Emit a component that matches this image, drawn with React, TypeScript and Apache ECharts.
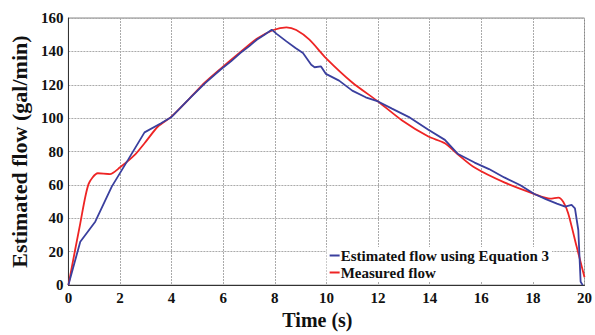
import React, { useEffect, useRef } from "react";
import * as echarts from "echarts";

const estX = [0, 0.46, 1.04, 1.68, 2.31, 2.95, 3.59, 3.98, 4.68, 5.3, 5.89, 6.3, 6.66, 7.0, 7.3, 7.6, 7.88, 8.07, 8.45, 8.8, 9.09, 9.41, 9.54, 9.79, 9.98, 10.49, 11.0, 11.52, 12.0, 12.54, 13.18, 13.95, 14.59, 15.1, 15.74, 16.3, 16.89, 17.5, 18.04, 18.5, 18.93, 19.25, 19.5, 19.63, 19.76, 19.85, 19.93];
const estY = [0, 26, 38, 59, 75, 91.5, 97, 100.5, 111.5, 121, 129, 134, 139, 143, 147, 150, 153, 150.5, 146, 142, 139, 132, 130.5, 131, 126.5, 122.5, 116.5, 112.5, 110, 105.7, 100.8, 93, 87, 78.5, 73.4, 69.5, 64.5, 60, 54.7, 51.5, 48.8, 47, 48, 46, 33, 2, 0];

const measX = [0, 0.46, 0.78, 1.14, 1.61, 1.99, 2.57, 2.95, 3.47, 3.98, 4.68, 5.3, 5.89, 6.66, 7.3, 7.94, 8.45, 8.83, 9.34, 9.98, 11.0, 12.0, 12.92, 13.95, 14.59, 15.1, 15.74, 16.89, 18.04, 18.67, 18.99, 19.18, 19.37, 19.69, 20.0];
const measY = [0, 37, 60.5, 67, 66.5, 70.4, 78, 85, 95, 100.8, 111.6, 121.5, 129.5, 139.5, 147.5, 152.8, 154.4, 152.8, 147, 136, 121.4, 110, 98.8, 89, 85, 78.2, 70.4, 61.5, 54.7, 51.8, 52.4, 49.8, 42.9, 23.4, 4.7];

const seriesNames = ["Estimated flow using Equation 3", "Measured flow"];
const xTitle = "Time (s)";
const yTitle = "Estimated flow (gal/min)";

const font = "Liberation Serif";

export default function App() {
  const ref = useRef<HTMLDivElement>(null);
  useEffect(() => {
    if (!ref.current) return;
    const chart = echarts.init(ref.current, undefined, { renderer: "svg" });
    const zip = (xs: number[], ys: number[]) => xs.map((x, i) => [x, ys[i]]);
    const txt = (size: number) => ({ fontFamily: font, fontWeight: "bold" as const, fontSize: size, color: "#111" });
    chart.setOption({
      animation: false,
      backgroundColor: "#fff",
      textStyle: { fontFamily: font, fontWeight: "bold" },
      grid: {
        left: 66,
        right: 8,
        top: 18,
        bottom: 45,
        show: true,
        borderColor: "#888",
        borderWidth: 1,
      },
      legend: {
        orient: "vertical",
        right: 43,
        bottom: 54,
        backgroundColor: "#fff",
        padding: [1, 3, 1, 3],
        itemGap: 2,
        icon: "rect",
        itemWidth: 10,
        itemHeight: 2,
        textStyle: { ...txt(15), padding: [0, 0, 0, -4] },
        data: seriesNames,
      },
      xAxis: {
        type: "value",
        min: 0,
        max: 20,
        interval: 2,
        name: xTitle,
        nameLocation: "middle",
        nameGap: 24,
        nameTextStyle: { ...txt(20), padding: [0, 18, 0, 0] },
        axisLine: { show: true, lineStyle: { color: "#333", width: 1 } },
        axisTick: { show: false },
        axisLabel: { ...txt(15), margin: 5 },
        splitLine: { show: true, lineStyle: { color: "#aaa", type: [2, 1], width: 1 } },
      },
      yAxis: {
        type: "value",
        min: 0,
        max: 160,
        interval: 20,
        name: yTitle,
        nameLocation: "middle",
        nameGap: 36,
        nameTextStyle: txt(22),
        axisLine: { show: true, lineStyle: { color: "#333", width: 1 } },
        axisTick: { show: false },
        axisLabel: { ...txt(15), margin: 5 },
        splitLine: { show: true, lineStyle: { color: "#aaa", type: [2, 1], width: 1 } },
      },
      series: [
        {
          name: seriesNames[0],
          type: "line",
          data: zip(estX, estY),
          showSymbol: false,
          symbol: "none",
          lineStyle: { color: "#3a3f9e", width: 1.8 },
          itemStyle: { color: "#3a3f9e" },
          z: 3,
        },
        {
          name: seriesNames[1],
          type: "line",
          data: zip(measX, measY),
          showSymbol: false,
          symbol: "none",
          smooth: 0.25,
          lineStyle: { color: "#ee2424", width: 1.8 },
          itemStyle: { color: "#ee2424" },
          z: 2,
        },
      ],
    });
    return () => chart.dispose();
  }, []);
  return <div ref={ref} style={{ width: 595, height: 335, position: "absolute", left: 0, top: 0 }} />;
}
